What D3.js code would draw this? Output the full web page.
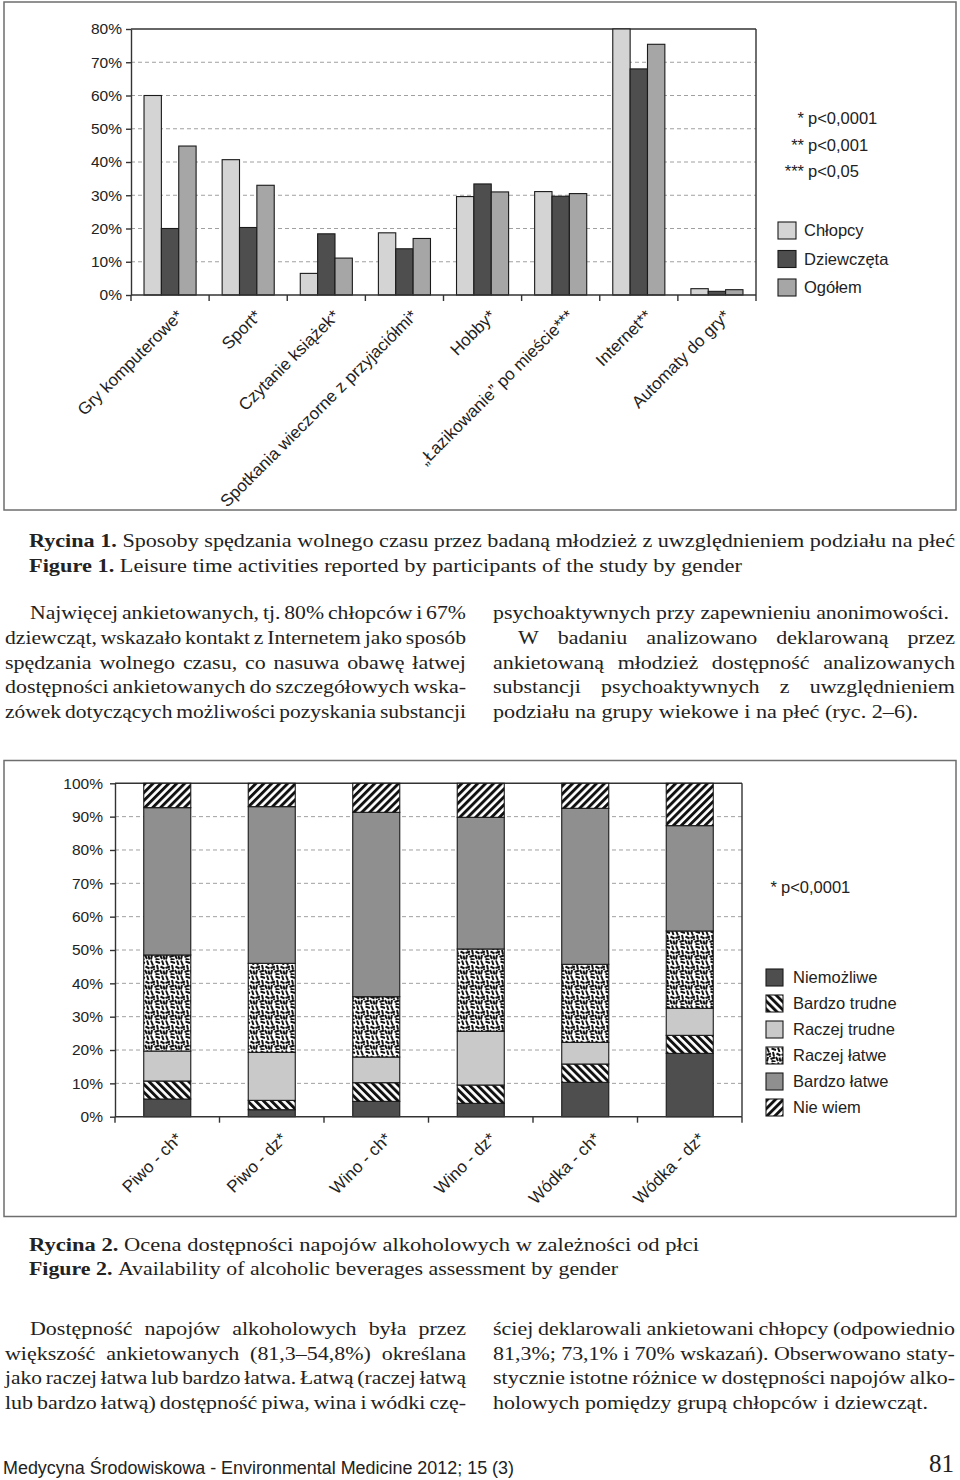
<!DOCTYPE html>
<html><head><meta charset="utf-8">
<script src="https://cdn.jsdelivr.net/npm/d3@7"></script>
<style>
html,body{margin:0;padding:0;background:#fff;}
svg{display:block;}
</style></head><body>
<svg id="page" width="960" height="1480"></svg>
<script>
// ---------------- DATA : Figure 1 ----------------
const activities = ["Gry komputerowe*", "Sport*", "Czytanie książek*", "Spotkania wieczorne z przyjaciółmi*", "Hobby*", "„Łazikowanie” po mieście***", "Internet**", "Automaty do gry*"];
const genderSeries = ["Chłopcy", "Dziewczęta", "Ogółem"];
const boysValues  = [60.0, 40.7, 6.5, 18.7, 29.6, 31.1, 80.0, 1.9];
const girlsValues = [20.0, 20.3, 18.4, 13.9, 33.4, 29.7, 68.0, 1.1];
const totalValues = [44.8, 33.0, 11.1, 17.0, 31.0, 30.5, 75.4, 1.6];
const fig1Ticks = [0, 10, 20, 30, 40, 50, 60, 70, 80];
const fig1Notes = [["*", "p<0,0001"], ["**", "p<0,001"], ["***", "p<0,05"]];

// ---------------- DATA : Figure 2 ----------------
const beverages = ["Piwo - ch*", "Piwo - dz*", "Wino - ch*", "Wino - dz*", "Wódka - ch*", "Wódka - dz*"];
const ratingLevels = ["Niemożliwe", "Bardzo trudne", "Raczej trudne", "Raczej łatwe", "Bardzo łatwe", "Nie wiem"];
const niemozliwe   = [5.3, 2.1, 4.6, 4.0, 10.3, 19.0];
const bardzoTrudne = [5.4, 2.8, 5.6, 5.5, 5.5, 5.4];
const raczejTrudne = [9.0, 14.4, 7.7, 16.1, 6.5, 8.1];
const raczejLatwe  = [28.8, 26.7, 18.1, 24.7, 23.4, 23.2];
const bardzoLatwe  = [44.2, 47.0, 55.3, 39.5, 46.8, 31.6];
const nieWiem      = [7.3, 7.0, 8.7, 10.2, 7.5, 12.7];
const fig2Ticks = [0, 10, 20, 30, 40, 50, 60, 70, 80, 90, 100];
const fig2Note = ["*", "p<0,0001"];

// ---------------- TEXT ----------------
const caption1 = [["Rycina 1.", " Sposoby spędzania wolnego czasu przez badaną młodzież z uwzględnieniem podziału na płeć"],
                  ["Figure 1.", " Leisure time activities reported by participants of the study by gender"]];
const caption2 = [["Rycina 2.", " Ocena dostępności napojów alkoholowych w zależności od płci"],
                  ["Figure 2.", " Availability of alcoholic beverages assessment by gender"]];
const textTopLeft = ["Najwięcej ankietowanych, tj. 80% chłopców i 67%",
  "dziewcząt, wskazało kontakt z Internetem jako sposób",
  "spędzania wolnego czasu, co nasuwa obawę łatwej",
  "dostępności ankietowanych do szczegółowych wska-",
  "zówek dotyczących możliwości pozyskania substancji"];
const textTopRight = ["psychoaktywnych przy zapewnieniu anonimowości.",
  "W badaniu analizowano deklarowaną przez",
  "ankietowaną młodzież dostępność analizowanych",
  "substancji psychoaktywnych z uwzględnieniem",
  "podziału na grupy wiekowe i na płeć (ryc. 2–6)."];
const textBotLeft = ["Dostępność napojów alkoholowych była przez",
  "większość ankietowanych (81,3–54,8%) określana",
  "jako raczej łatwa lub bardzo łatwa. Łatwą (raczej łatwą",
  "lub bardzo łatwą) dostępność piwa, wina i wódki czę-"];
const textBotRight = ["ściej deklarowali ankietowani chłopcy (odpowiednio",
  "81,3%; 73,1% i 70% wskazań). Obserwowano staty-",
  "stycznie istotne różnice w dostępności napojów alko-",
  "holowych pomiędzy grupą chłopców i dziewcząt."];
const footerText = "Medycyna Środowiskowa - Environmental Medicine 2012; 15 (3)";
const pageNumber = "81";

// ---------------- SETUP ----------------
const SANS = "'Liberation Sans', Arial, Helvetica, sans-serif";
const SERIF = "'Liberation Serif', 'Times New Roman', serif";
const INK = "#222";
const svg = d3.select("#page");
const defs = svg.append("defs");

function hatch(id, angle) {
  const p = defs.append("pattern").attr("id", id).attr("patternUnits", "userSpaceOnUse")
    .attr("width", 5.6).attr("height", 10).attr("patternTransform", `rotate(${angle})`);
  p.append("rect").attr("width", 5.6).attr("height", 10).attr("fill", "#fff");
  p.append("rect").attr("width", 2.9).attr("height", 10).attr("fill", "#111");
}
hatch("hatchBack", -45);
hatch("hatchFwd", 45);
(function confetti() {
  const p = defs.append("pattern").attr("id", "confetti").attr("patternUnits", "userSpaceOnUse")
    .attr("width", 15).attr("height", 15);
  p.append("rect").attr("width", 15).attr("height", 15).attr("fill", "#fff");
  const segs = [[1,0.5,3,5.5],[5.5,1.5,10,3],[12,0.5,13.5,5],[0.5,8,5,6.5],[7,5,8,9.5],[10.5,6.5,14.5,8.5],
                [2,10,1,14.5],[4.5,12,9,10.5],[10,10,12,14],[13.5,10.5,14.5,14.5],[5.5,14,9.5,14.8],[3.5,8.5,4.5,10]];
  p.selectAll("line").data(segs).join("line")
    .attr("x1", d => d[0]).attr("y1", d => d[1]).attr("x2", d => d[2]).attr("y2", d => d[3])
    .attr("stroke", "#111").attr("stroke-width", 2);
})();

// ================= FIGURE 1 =================
svg.append("rect").attr("x", 4).attr("y", 2).attr("width", 952).attr("height", 508)
  .attr("fill", "none").attr("stroke", "#6e6e6e").attr("stroke-width", 1.5);

const c1 = {left: 131, right: 756, top: 29, bottom: 295};
const x1 = d3.scaleBand().domain(activities).range([c1.left, c1.right]).paddingInner(1/3).paddingOuter(1/6);
const xs1 = d3.scaleBand().domain(genderSeries).range([0, x1.bandwidth()]);
const y1 = d3.scaleLinear().domain([0, 80]).range([c1.bottom, c1.top]);
const colors1 = d3.scaleOrdinal().domain(genderSeries).range(["#d4d4d4", "#4e4e4e", "#a6a6a6"]);
const series1 = [boysValues, girlsValues, totalValues];
const g1 = svg.append("g");

g1.selectAll("line.grid").data(fig1Ticks.filter(t => t > 0 && t < 80)).join("line")
  .attr("x1", c1.left).attr("x2", c1.right).attr("y1", d => y1(d)).attr("y2", d => y1(d))
  .attr("stroke", "#a0a0a0").attr("stroke-width", 1).attr("stroke-dasharray", "4,3");
g1.append("line").attr("x1", c1.left).attr("x2", c1.right).attr("y1", y1(80)).attr("y2", y1(80))
  .attr("stroke", "#333").attr("stroke-width", 1.4);
g1.append("line").attr("x1", c1.right).attr("x2", c1.right).attr("y1", y1(80)).attr("y2", y1(0))
  .attr("stroke", "#333").attr("stroke-width", 1.4);

const bars1 = activities.flatMap((a, i) => genderSeries.map((s, j) => ({a, s, v: series1[j][i]})));
g1.selectAll("rect.bar").data(bars1).join("rect")
  .attr("x", d => x1(d.a) + xs1(d.s)).attr("width", xs1.bandwidth())
  .attr("y", d => y1(d.v)).attr("height", d => y1(0) - y1(d.v))
  .attr("fill", d => colors1(d.s)).attr("stroke", "#1a1a1a").attr("stroke-width", 1.1);

const yAx1 = g1.append("g").attr("transform", `translate(${c1.left},0)`)
  .call(d3.axisLeft(y1).tickValues(fig1Ticks).tickFormat(d => d + "%").tickSize(5).tickSizeOuter(0).tickPadding(4));
yAx1.attr("font-family", SANS).attr("font-size", 15.5);
yAx1.selectAll("text").attr("fill", INK);
yAx1.selectAll("line,path").attr("stroke", "#333").attr("stroke-width", 1.4);

const bounds1 = activities.map(a => x1(a) - x1.step() * x1.paddingInner() / 2).concat([c1.right]);
g1.append("line").attr("x1", c1.left).attr("x2", c1.right).attr("y1", y1(0)).attr("y2", y1(0))
  .attr("stroke", "#333").attr("stroke-width", 1.4);
g1.selectAll("line.xt").data(bounds1).join("line")
  .attr("x1", d => d).attr("x2", d => d).attr("y1", y1(0)).attr("y2", y1(0) + 6)
  .attr("stroke", "#333").attr("stroke-width", 1.4);
g1.selectAll("text.xl").data(activities).join("text")
  .attr("transform", d => `translate(${x1(d) + x1.bandwidth() / 2 + 14},${y1(0) + 22}) rotate(-45)`)
  .attr("text-anchor", "end").attr("font-family", SANS).attr("font-size", 17).attr("fill", INK)
  .text(d => d);

// notes
const notes1 = g1.selectAll("g.note").data(fig1Notes).join("g")
  .attr("transform", (d, i) => `translate(0,${124 + i * 26.5})`)
  .attr("font-family", SANS).attr("font-size", 16.5).attr("fill", INK);
notes1.append("text").attr("x", 804).attr("text-anchor", "end").text(d => d[0]);
notes1.append("text").attr("x", 808).text(d => d[1]);

// legend
const leg1 = g1.selectAll("g.leg").data(genderSeries).join("g")
  .attr("transform", (d, i) => `translate(778,${222 + i * 28.5})`);
leg1.append("rect").attr("width", 18).attr("height", 17).attr("fill", d => colors1(d))
  .attr("stroke", "#1a1a1a").attr("stroke-width", 1.1);
leg1.append("text").attr("x", 26).attr("y", 8.5).attr("dy", "0.35em")
  .attr("font-family", SANS).attr("font-size", 16.5).attr("fill", INK).text(d => d);

// ================= FIGURE 2 =================
svg.append("rect").attr("x", 4).attr("y", 760.5).attr("width", 952).attr("height", 456)
  .attr("fill", "none").attr("stroke", "#6e6e6e").attr("stroke-width", 1.5);

const c2 = {left: 115, right: 742, top: 783.3, bottom: 1116.7};
const x2 = d3.scaleBand().domain(beverages).range([c2.left, c2.right]).paddingInner(0.55).paddingOuter(0.275);
const y2 = d3.scaleLinear().domain([0, 100]).range([c2.bottom, c2.top]);
const fills2 = d3.scaleOrdinal().domain(ratingLevels)
  .range(["#4e4e4e", "url(#hatchBack)", "#c9c9c9", "url(#confetti)", "#8f8f8f", "url(#hatchFwd)"]);
const levelArrays = [niemozliwe, bardzoTrudne, raczejTrudne, raczejLatwe, bardzoLatwe, nieWiem];
const table2 = beverages.map((b, i) => {
  const row = {b};
  ratingLevels.forEach((k, j) => row[k] = levelArrays[j][i]);
  return row;
});
const stack2 = d3.stack().keys(ratingLevels)(table2);
const g2 = svg.append("g");

g2.selectAll("line.grid").data(fig2Ticks.filter(t => t > 0 && t < 100)).join("line")
  .attr("x1", c2.left).attr("x2", c2.right).attr("y1", d => y2(d)).attr("y2", d => y2(d))
  .attr("stroke", "#a0a0a0").attr("stroke-width", 1).attr("stroke-dasharray", "4,3");
g2.append("line").attr("x1", c2.left).attr("x2", c2.right).attr("y1", y2(100)).attr("y2", y2(100))
  .attr("stroke", "#333").attr("stroke-width", 1.4);
g2.append("line").attr("x1", c2.right).attr("x2", c2.right).attr("y1", y2(100)).attr("y2", y2(0))
  .attr("stroke", "#333").attr("stroke-width", 1.4);

g2.selectAll("g.layer").data(stack2).join("g")
  .attr("fill", d => fills2(d.key))
  .selectAll("rect").data(d => d).join("rect")
  .attr("x", d => x2(d.data.b)).attr("width", x2.bandwidth())
  .attr("y", d => y2(d[1])).attr("height", d => y2(d[0]) - y2(d[1]))
  .attr("stroke", "#1a1a1a").attr("stroke-width", 1.1);

const yAx2 = g2.append("g").attr("transform", `translate(${c2.left},0)`)
  .call(d3.axisLeft(y2).tickValues(fig2Ticks).tickFormat(d => d + "%").tickSize(5).tickSizeOuter(0).tickPadding(7));
yAx2.attr("font-family", SANS).attr("font-size", 15.5);
yAx2.selectAll("text").attr("fill", INK);
yAx2.selectAll("line,path").attr("stroke", "#333").attr("stroke-width", 1.4);

const bounds2 = beverages.map(b => x2(b) - x2.step() * x2.paddingInner() / 2).concat([c2.right]);
g2.append("line").attr("x1", c2.left).attr("x2", c2.right).attr("y1", y2(0)).attr("y2", y2(0))
  .attr("stroke", "#333").attr("stroke-width", 1.4);
g2.selectAll("line.xt").data(bounds2).join("line")
  .attr("x1", d => d).attr("x2", d => d).attr("y1", y2(0)).attr("y2", y2(0) + 6)
  .attr("stroke", "#333").attr("stroke-width", 1.4);
g2.selectAll("text.xl").data(beverages).join("text")
  .attr("transform", d => `translate(${x2(d) + x2.bandwidth() / 2 + 16},${y2(0) + 23}) rotate(-45)`)
  .attr("text-anchor", "end").attr("font-family", SANS).attr("font-size", 17).attr("fill", INK)
  .text(d => d);

const note2 = g2.append("g").attr("font-family", SANS).attr("font-size", 16.5).attr("fill", INK);
note2.append("text").attr("x", 777).attr("y", 893).attr("text-anchor", "end").text(fig2Note[0]);
note2.append("text").attr("x", 781).attr("y", 893).text(fig2Note[1]);

const leg2 = g2.selectAll("g.leg").data(ratingLevels).join("g")
  .attr("transform", (d, i) => `translate(766,${969 + i * 26})`);
leg2.append("rect").attr("width", 17).attr("height", 17).attr("fill", d => fills2(d))
  .attr("stroke", "#1a1a1a").attr("stroke-width", 1.1);
leg2.append("text").attr("x", 27).attr("y", 8.5).attr("dy", "0.35em")
  .attr("font-family", SANS).attr("font-size", 16.5).attr("fill", INK).text(d => d);

// ================= TEXT =================
const meas = svg.append("text").attr("x", -2000).attr("y", -2000);
function tw(str, size, weight, family) {
  meas.attr("font-family", family).attr("font-size", size).attr("font-weight", weight).text(str);
  return meas.node().getComputedTextLength();
}
function prepare(parts, size, family) {
  const words = [];
  parts.forEach(([t, b]) => t.split(" ").forEach(w => { if (w.length) words.push({t: w, b}); }));
  words.forEach(w => w.w = tw(w.t, size, w.b ? "bold" : "normal", family));
  const sp = tw("a a", size, "normal", family) - tw("aa", size, "normal", family);
  const sum = d3.sum(words, w => w.w);
  return {words, sp, sum, natural: sum + sp * (words.length - 1)};
}
function render(pr, x0, y, k, gap, size, family) {
  const t = svg.append("text").attr("transform", `translate(${x0},${y}) scale(${k},1)`)
    .attr("font-family", family).attr("font-size", size).attr("fill", INK);
  let pos = 0;
  pr.words.forEach(w => {
    t.append("tspan").attr("x", pos).attr("font-weight", w.b ? "bold" : "normal").text(w.t);
    pos += w.w + gap;
  });
}
function fitLine(parts, x0, x1, y, size, family) {
  const pr = prepare(parts, size, family);
  const k = (x1 - x0) / pr.natural;
  render(pr, x0, y, k, pr.sp, size, family);
  return k;
}
const CAP = 19.5, BODY = 18.5;
fitLine([[caption1[0][0], true], [caption1[0][1], false]], 29, 955, 547, CAP, SERIF);
fitLine([[caption1[1][0], true], [caption1[1][1], false]], 29, 742, 572, CAP, SERIF);
fitLine([[caption2[0][0], true], [caption2[0][1], false]], 29, 699, 1251, CAP, SERIF);
fitLine([[caption2[1][0], true], [caption2[1][1], false]], 29, 618, 1275, CAP, SERIF);

const colL = [5, 466], colR = [493, 955], INDENT = 25;
const kBody = d3.mean([
  fitLine([[textTopRight[0], false]], colR[0], 949, 619, BODY, SERIF),
  fitLine([[textTopRight[4], false]], colR[0], 918, 619 + 4 * 24.75, BODY, SERIF),
  fitLine([[textBotRight[3], false]], colR[0], 928, 1335 + 3 * 24.5, BODY, SERIF)
]);
function justify(str, x0, x1, y) {
  const pr = prepare([[str, false]], BODY, SERIF);
  let k = kBody;
  let gap = ((x1 - x0) / k - pr.sum) / (pr.words.length - 1);
  if (gap < pr.sp * 0.7) { gap = pr.sp * 0.7; k = (x1 - x0) / (pr.sum + gap * (pr.words.length - 1)); }
  render(pr, x0, y, k, gap, BODY, SERIF);
}
textTopLeft.forEach((s, i) => justify(s, colL[0] + (i === 0 ? INDENT : 0), colL[1], 619 + i * 24.75));
[1, 2, 3].forEach(i => justify(textTopRight[i], colR[0] + (i === 1 ? INDENT : 0), colR[1], 619 + i * 24.75));
textBotLeft.forEach((s, i) => justify(s, colL[0] + (i === 0 ? INDENT : 0), colL[1], 1335 + i * 24.5));
[0, 1, 2].forEach(i => justify(textBotRight[i], colR[0], colR[1], 1335 + i * 24.5));

// footer
svg.append("text").attr("x", 3).attr("y", 1474).attr("font-family", SANS).attr("font-size", 17.5)
  .attr("fill", INK).attr("textLength", 511).attr("lengthAdjust", "spacingAndGlyphs").text(footerText);
svg.append("text").attr("x", 954).attr("y", 1472).attr("text-anchor", "end").attr("font-family", SERIF)
  .attr("font-size", 25).attr("fill", INK).text(pageNumber);
meas.remove();
</script>
</body></html>
